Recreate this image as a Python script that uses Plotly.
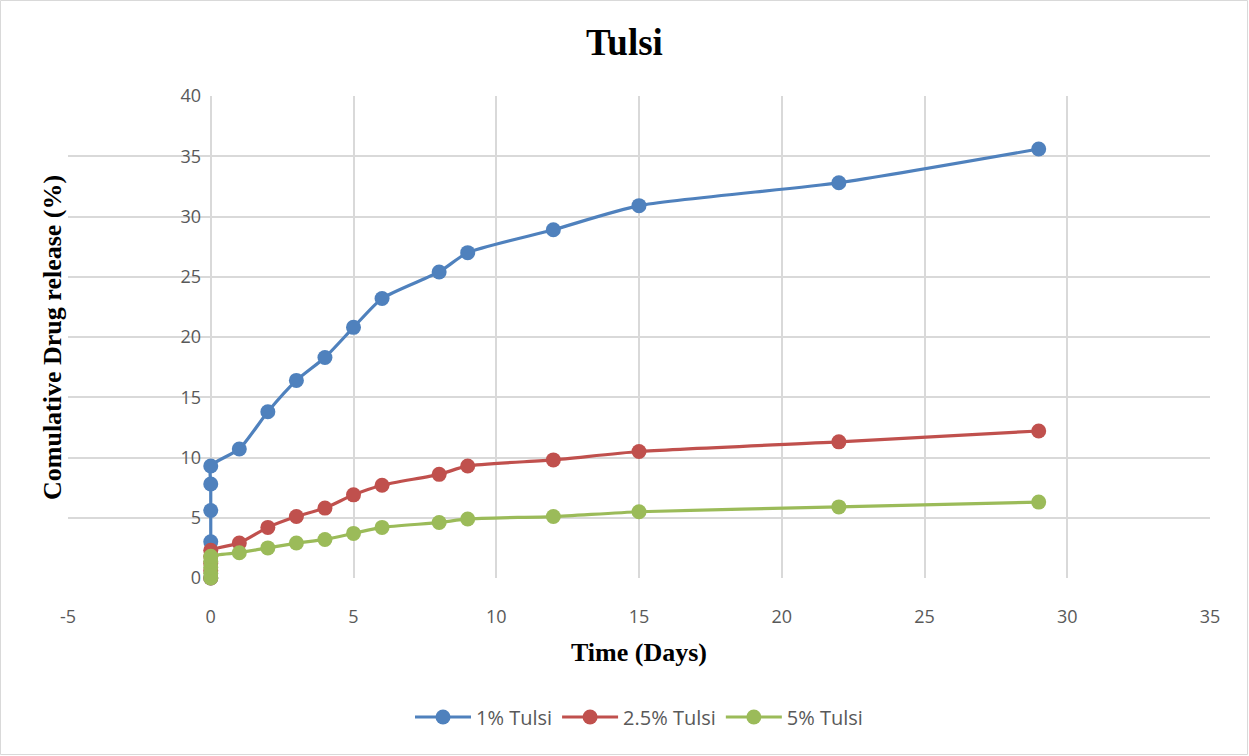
import plotly.graph_objects as go

days = [0, 0, 0, 0, 0, 1, 2, 3, 4, 5, 6, 8, 9, 12, 15, 22, 29]
tulsi_1 = [0, 3.0, 5.6, 7.8, 9.3, 10.7, 13.8, 16.4, 18.3, 20.8, 23.2, 25.4, 27.0, 28.9, 30.9, 32.8, 35.6]
tulsi_25 = [0, 0.6, 1.2, 1.8, 2.3, 2.9, 4.2, 5.1, 5.8, 6.9, 7.7, 8.6, 9.3, 9.8, 10.5, 11.3, 12.2]
tulsi_5 = [0, 0.4, 0.9, 1.4, 1.8, 2.1, 2.5, 2.9, 3.2, 3.7, 4.2, 4.6, 4.9, 5.1, 5.5, 5.9, 6.3]
x_ticks = [-5, 0, 5, 10, 15, 20, 25, 30, 35]
x_tick_labels = ["-5", "0", "5", "10", "15", "20", "25", "30", "35"]

series = [
    ("1% Tulsi", tulsi_1, "#4F81BD"),
    ("2.5% Tulsi", tulsi_25, "#C0504D"),
    ("5% Tulsi", tulsi_5, "#9BBB59"),
]

fig = go.Figure()
for name, vals, col in series:
    fig.add_trace(go.Scatter(
        x=days, y=vals, name=name, mode="lines+markers", cliponaxis=False,
        line=dict(color=col, width=3.2, shape="spline", smoothing=0.6),
        marker=dict(color=col, size=15),
    ))

W, H = 1249, 756
L, R, T, B = 68, 39, 96, 178
pw, ph = W - L - R, H - T - B

grid = "#D9D9D9"
tickfont = dict(family="Open Sans, Liberation Sans, sans-serif", size=18, color="#595959")
serif = "Liberation Serif, Times New Roman, serif"

fig.update_layout(
    width=W, height=H,
    margin=dict(l=L, r=R, t=T, b=B),
    paper_bgcolor="white", plot_bgcolor="white",
    title=dict(text="<b>Tulsi</b>", x=0.5, xanchor="center", y=1 - 42 / H, yanchor="middle",
               font=dict(family=serif, size=37, color="black")),
    xaxis=dict(range=[-5, 35], tickvals=x_ticks, ticktext=x_tick_labels, showgrid=True,
               gridcolor=grid, gridwidth=1.5,
               zeroline=False, showline=False, ticks="outside", ticklen=22,
               tickcolor="rgba(0,0,0,0)", tickfont=tickfont,
               title=dict(text="<b>Time (Days)</b>", standoff=16,
                          font=dict(family=serif, size=26, color="black"))),
    yaxis=dict(range=[0, 40], dtick=5, showgrid=True, gridcolor=grid, gridwidth=1.5,
               zeroline=False, showline=False, anchor="free", position=(210.75 - L) / pw,
               ticks="outside", ticklen=6, tickcolor="rgba(0,0,0,0)", tickfont=tickfont),
    legend=dict(orientation="h", x=0.5, xanchor="center", y=(578 - 717) / ph, yanchor="middle",
                itemwidth=56, tracegroupgap=20,
                font=dict(family="Open Sans, Liberation Sans, sans-serif", size=20, color="#595959")),
    showlegend=True,
)

fig.add_annotation(
    text="<b>Comulative Drug release (%)</b>", textangle=-90,
    xref="paper", yref="paper", x=(52 - L) / pw, y=(578 - 338) / ph,
    xanchor="center", yanchor="middle", showarrow=False,
    font=dict(family=serif, size=26, color="black"),
)

fig.add_shape(
    type="rect", xref="paper", yref="paper", layer="below",
    x0=(0.5 - L) / pw, x1=(W - 1.5 - L) / pw,
    y0=(578 - (H - 1.5)) / ph, y1=(578 - 0.5) / ph,
    line=dict(color="#D9D9D9", width=1),
)

fig.write_html("out.html", config={"displayModeBar": False},
               post_script="document.body.style.margin='0';document.body.style.overflow='hidden';")
